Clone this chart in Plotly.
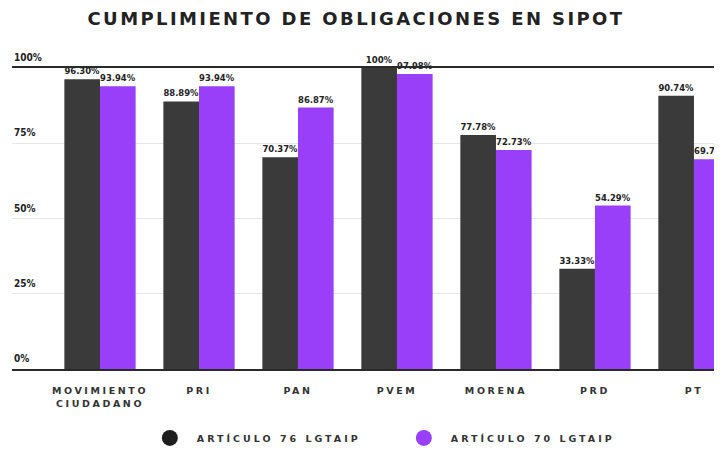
import plotly.graph_objects as go

categories = ["MOVIMIENTO<br>CIUDADANO", "PRI", "PAN", "PVEM", "MORENA", "PRD", "PT"]
art76 = [96.30, 88.89, 70.37, 100, 77.78, 33.33, 90.74]
art70 = [93.94, 93.94, 86.87, 97.98, 72.73, 54.29, 69.70]
series_names = ["ARTÍCULO 76 LGTAIP", "ARTÍCULO 70 LGTAIP"]
y_ticks = [0, 25, 50, 75, 100]
y_tick_labels = ["0%", "25%", "50%", "75%", "100%"]

DARK = "#3a3a3a"
PURPLE = "#9a3ff9"
LEG_DARK = "#1e1e1e"
NARROW = "DejaVu Sans Condensed, Liberation Sans Narrow, sans-serif"
WIDE = "DejaVu Sans, Verdana, sans-serif"


def fmt(v):
    return f"{int(v)}%" if float(v).is_integer() else f"{v:.2f}%"


def spaced(s, px):
    return "<br>".join(f'<span style="letter-spacing:{px}px">{part}</span>' for part in s.split("<br>"))


x_idx = list(range(len(categories)))

fig = go.Figure()
for vals, col in [(art76, DARK), (art70, PURPLE)]:
    fig.add_trace(go.Bar(
        x=x_idx, y=vals, marker=dict(color=col, line=dict(width=0)),
        text=[fmt(v) for v in vals], textposition="outside",
        textfont=dict(family=NARROW, size=9.5, color="#222", weight="bold"),
        cliponaxis=False, showlegend=False, hoverinfo="skip",
    ))

for name, col in [(series_names[0], LEG_DARK), (series_names[1], PURPLE)]:
    fig.add_trace(go.Scatter(
        x=[None], y=[None], mode="markers", name=spaced(name, 3),
        marker=dict(color=col, size=18, symbol="circle"),
    ))

annotations = [
    dict(x=0, xref="paper", y=v, yref="y", text=t, showarrow=False,
         xanchor="left", yanchor="bottom", yshift=3,
         font=dict(family=NARROW, size=10, color="#222", weight="bold"))
    for v, t in zip(y_ticks, y_tick_labels)
]

fig.update_layout(
    width=722, height=451,
    margin=dict(l=4, r=0, t=60, b=90, autoexpand=False),
    paper_bgcolor="white", plot_bgcolor="white",
    barmode="group", bargap=0.28, bargroupgap=0,
    title=dict(
        text=spaced("CUMPLIMIENTO DE OBLIGACIONES EN SIPOT", 2.4),
        x=0.482, xanchor="center", y=1 - 11 / 451, yanchor="middle",
        font=dict(family=WIDE, size=18, color="#222", weight="bold"),
    ),
    xaxis=dict(
        range=[-0.889, 6.364], tickmode="array", tickvals=x_idx,
        ticktext=[spaced(c, 2.6) for c in categories],
        tickfont=dict(family=WIDE, size=9.5, color="#333", weight="bold"),
        showgrid=False, zeroline=False, automargin=False,
        showline=True, mirror=True, linecolor="#2a2a2a", linewidth=2,
        ticks="", ticklabelstandoff=12,
    ),
    yaxis=dict(
        range=[0, 100], tickmode="array", tickvals=y_ticks, showticklabels=False,
        showgrid=True, gridcolor="#e6e6e6", gridwidth=1, zeroline=False,
        showline=False, ticks="", automargin=False,
    ),
    annotations=annotations,
    legend=dict(
        orientation="h", x=0.536, xanchor="center", y=-0.229, yanchor="middle",
        font=dict(family=WIDE, size=9.5, color="#333", weight="bold"),
        itemwidth=44, entrywidth=195, bgcolor="rgba(0,0,0,0)",
    ),
    showlegend=True,
)

fig.write_html("out.html")
